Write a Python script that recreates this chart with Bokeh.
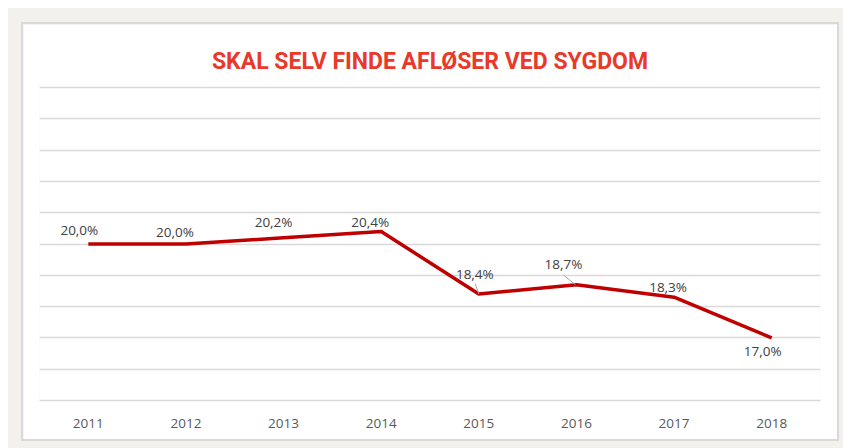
from bokeh.plotting import figure
from bokeh.layouts import column
from bokeh.models import ColumnDataSource, Range1d, FixedTicker
from bokeh.core.properties import value
from bokeh.embed import file_html
from bokeh.resources import INLINE

# ---- data ----
years = [2011, 2012, 2013, 2014, 2015, 2016, 2017, 2018]
share = [20.0, 20.0, 20.2, 20.4, 18.4, 18.7, 18.3, 17.0]
labels = ["20,0%", "20,0%", "20,2%", "20,4%", "18,4%", "18,7%", "18,3%", "17,0%"]
grid_ticks = [15, 16, 17, 18, 19, 20, 21, 22, 23, 24, 25]
title_text = "SKAL SELV FINDE AFLØSER VED SYGDOM"

# label placement (pixel offsets from each point)
dx = [-9, -11, -10, -11, -4, -13, -6, -9]
dy = [-14, -12, -16, -9, -20, -21, -10, 13]

W, H = 814, 415
BL, BR, BT, BB = 16, 17, 60, 39
PAD = 3  # extra pixels above the top gridline so it is not clipped
X0, X1 = 2010.5, 2018.5
Y0 = 15
Y1 = 25 + PAD / ((H - BT - BB - PAD) / 10)

p = figure(width=W, height=H, output_backend="svg", toolbar_location=None,
           x_range=Range1d(X0, X1), y_range=Range1d(Y0, Y1),
           min_border_left=BL, min_border_right=BR, min_border_top=BT,
           min_border_bottom=BB, border_fill_color="white",
           background_fill_color="white", outline_line_color=None,
           title=title_text, margin=(16, 6, 9, 15))
p.styles = {"outline": "2px solid #d9d9d9"}

p.title.align = "center"
p.title.text_font = "Roboto"
p.title.text_font_style = "bold"
p.title.text_font_size = "23px"
p.title.text_color = "#e8392a"
p.title.standoff = 19

p.yaxis.visible = False
p.xgrid.visible = False
p.ygrid.ticker = FixedTicker(ticks=grid_ticks)
p.ygrid.grid_line_color = "#d9d9d9"
p.ygrid.grid_line_width = 1.5

xa = p.xaxis[0]
xa.ticker = FixedTicker(ticks=years)
xa.axis_line_color = "#d9d9d9"
xa.axis_line_width = 1.5
xa.major_tick_line_color = None
xa.minor_tick_line_color = None
xa.major_label_text_font = "Open Sans"
xa.major_label_text_font_size = "13.5px"
xa.major_label_text_color = "#595959"
xa.major_label_standoff = 12

src = ColumnDataSource(dict(x=years, y=share, t=labels, dx=dx, dy=dy))
p.line("x", "y", source=src, line_color="#c00000", line_width=3.5)

# leader lines for two labels
pxx = (W - BL - BR) / (X1 - X0)
pxy = (H - BT - BB) / (Y1 - Y0)
lead_idx = [4, 5]
lead_from = [(-3.6, -10.3), (-13, -9.7)]
lead_to = [(0, 0), (-1, 0)]
p.segment(x0=[years[i] + f[0] / pxx for i, f in zip(lead_idx, lead_from)],
          y0=[share[i] - f[1] / pxy for i, f in zip(lead_idx, lead_from)],
          x1=[years[i] + t[0] / pxx for i, t in zip(lead_idx, lead_to)],
          y1=[share[i] - t[1] / pxy for i, t in zip(lead_idx, lead_to)],
          line_color="#a6a6a6", line_width=1)

p.text("x", "y", text="t", source=src, x_offset="dx", y_offset="dy",
       text_align="center", text_baseline="middle",
       text_font=value("Open Sans"), text_font_size="13.5px",
       text_color="#404040")

layout = column(p, width=835, height=440, margin=(8, 0, 0, 8),
                styles={"background-color": "#f2f1ec"})

open("out.html", "w").write(file_html(layout, INLINE))
